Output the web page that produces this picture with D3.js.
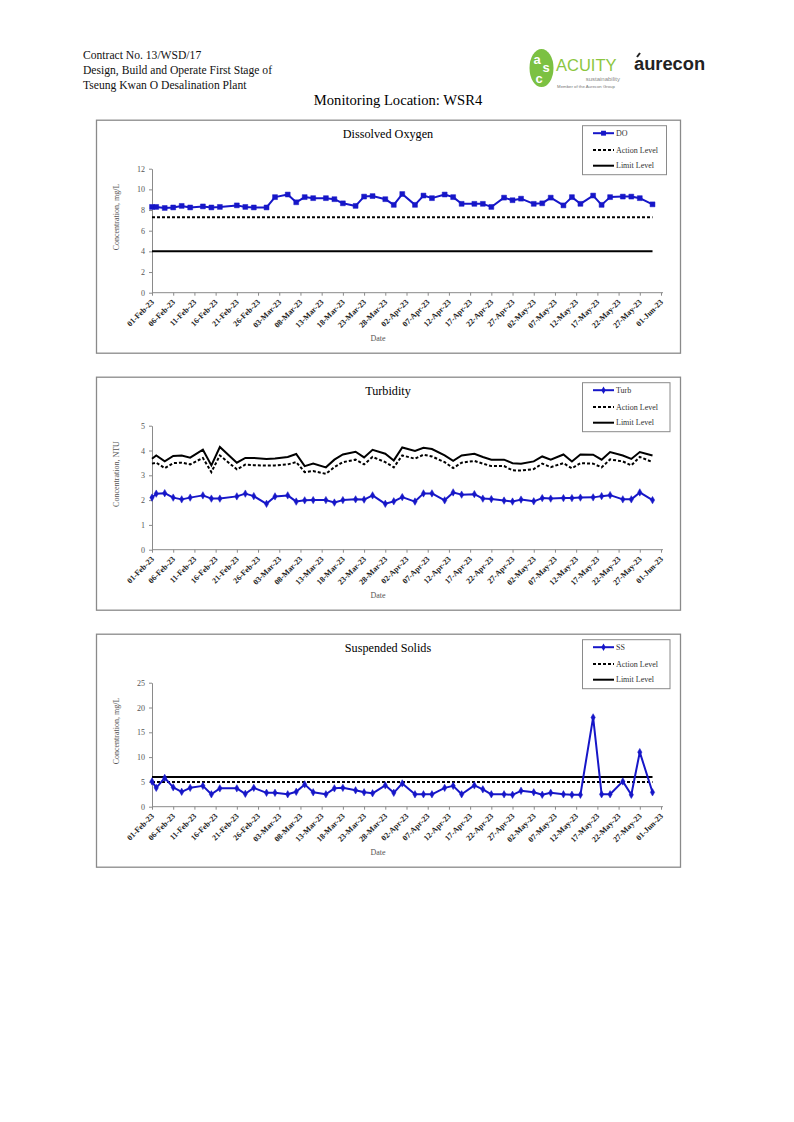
<!DOCTYPE html>
<html><head><meta charset="utf-8">
<script src="https://cdn.jsdelivr.net/npm/d3@7"></script>
<style>
body{margin:0;background:#fff}
svg{display:block}
</style>
</head><body>
<svg id="c" width="794" height="1122" font-family="Liberation Serif, Times New Roman, serif"></svg>
<script>
// ---------------- data ----------------
const sampleDates = ["2023-02-01","2023-02-02","2023-02-04","2023-02-06","2023-02-08","2023-02-10","2023-02-13","2023-02-15","2023-02-17","2023-02-21","2023-02-23","2023-02-25","2023-02-28",
"2023-03-02","2023-03-05","2023-03-07","2023-03-09","2023-03-11","2023-03-14","2023-03-16","2023-03-18","2023-03-21","2023-03-23","2023-03-25","2023-03-28","2023-03-30",
"2023-04-01","2023-04-04","2023-04-06","2023-04-08","2023-04-11","2023-04-13","2023-04-15","2023-04-18","2023-04-20","2023-04-22","2023-04-25","2023-04-27","2023-04-29",
"2023-05-02","2023-05-04","2023-05-06","2023-05-09","2023-05-11","2023-05-13","2023-05-16","2023-05-18","2023-05-20","2023-05-23","2023-05-25","2023-05-27","2023-05-30"];

const doValues = [8.3,8.3,8.2,8.25,8.4,8.25,8.35,8.25,8.3,8.45,8.3,8.25,8.25,
9.25,9.5,8.75,9.25,9.15,9.15,9.05,8.65,8.4,9.3,9.35,9.05,8.5,
9.55,8.5,9.4,9.15,9.5,9.25,8.6,8.6,8.6,8.3,9.2,8.95,9.1,
8.6,8.65,9.2,8.45,9.25,8.6,9.4,8.5,9.25,9.3,9.3,9.15,8.55];
const doAction = 7.3;
const doLimit = 4;

const turbValues = [2.10,2.26,2.28,2.10,2.03,2.10,2.19,2.06,2.06,2.15,2.26,2.16,1.85,
2.15,2.19,1.94,1.99,2.00,2.00,1.90,2.00,2.03,2.02,2.19,1.85,1.95,
2.12,1.94,2.27,2.27,1.99,2.31,2.22,2.24,2.06,2.04,1.98,1.94,2.02,
1.95,2.08,2.06,2.08,2.08,2.10,2.11,2.16,2.20,2.03,2.03,2.31,2.00];
const turbAction = [3.47,3.51,3.29,3.49,3.51,3.44,3.70,3.13,3.80,3.24,3.43,3.41,3.39,
3.40,3.44,3.53,3.13,3.17,3.06,3.33,3.53,3.63,3.44,3.74,3.53,3.32,
3.80,3.67,3.83,3.76,3.53,3.29,3.51,3.58,3.47,3.37,3.37,3.20,3.19,
3.25,3.47,3.33,3.49,3.28,3.49,3.47,3.32,3.64,3.56,3.40,3.74,3.53];
const turbLimit = [3.67,3.80,3.56,3.78,3.80,3.71,4.03,3.40,4.14,3.51,3.70,3.70,3.66,
3.68,3.74,3.86,3.37,3.47,3.32,3.63,3.84,3.95,3.72,4.03,3.87,3.60,
4.12,3.98,4.11,4.06,3.80,3.58,3.80,3.87,3.74,3.63,3.63,3.49,3.47,
3.56,3.76,3.63,3.84,3.56,3.84,3.83,3.63,3.94,3.80,3.66,3.94,3.80];

const ssValues = [5.1,3.8,5.8,3.9,3.0,3.8,4.2,2.5,3.7,3.7,2.6,3.8,2.8,
2.8,2.5,3.0,4.5,2.9,2.5,3.7,3.8,3.3,2.9,2.7,4.3,2.8,
4.7,2.5,2.5,2.5,3.8,4.2,2.5,4.3,3.5,2.5,2.5,2.4,3.2,
2.9,2.4,2.8,2.5,2.4,2.4,18.0,2.5,2.5,5.1,2.4,11.0,2.9];
const ssAction = 5;
const ssLimit = 6;

const doTicks = [0,2,4,6,8,10,12];
const turbTicks = [0,1,2,3,4,5];
const ssTicks = [0,5,10,15,20,25];
const xTickLabels = ["01-Feb-23","06-Feb-23","11-Feb-23","16-Feb-23","21-Feb-23","26-Feb-23","03-Mar-23","08-Mar-23","13-Mar-23","18-Mar-23","23-Mar-23","28-Mar-23",
"02-Apr-23","07-Apr-23","12-Apr-23","17-Apr-23","22-Apr-23","27-Apr-23","02-May-23","07-May-23","12-May-23","17-May-23","22-May-23","27-May-23","01-Jun-23"];

// ---------------- drawing ----------------
const SERIF = "Liberation Serif, Times New Roman, serif";
const SANS = "Liberation Sans, Arial, sans-serif";
const parse = d3.utcParse("%Y-%m-%d");
const parseTick = d3.utcParse("%d-%b-%y");
const dates = sampleDates.map(parse);
const svg = d3.select("#c");
const BLUE = "#1616c8";

// header
const hdr = svg.append("g");
[["Contract No. 13/WSD/17",59],["Design, Build and Operate First Stage of",74],["Tseung Kwan O Desalination Plant",89]]
  .forEach(([t,y]) => hdr.append("text").attr("x",83).attr("y",y).attr("font-size",11.6).attr("fill","#111").text(t));
hdr.append("text").attr("x",398).attr("y",105).attr("text-anchor","middle").attr("font-size",14.6).attr("fill","#000").text("Monitoring Location: WSR4");

// logos
const logo = svg.append("g").attr("font-family",SANS);
logo.append("ellipse").attr("cx",541.5).attr("cy",68).attr("rx",12).attr("ry",19).attr("fill","#7cc142");
logo.append("text").attr("x",537).attr("y",64).attr("font-weight","bold").attr("font-size",13).attr("fill","#fff").attr("text-anchor","middle").text("a");
logo.append("text").attr("x",546).attr("y",72).attr("font-weight","bold").attr("font-size",13).attr("fill","#fff").attr("text-anchor","middle").text("s");
logo.append("text").attr("x",539).attr("y",83).attr("font-weight","bold").attr("font-size",13).attr("fill","#fff").attr("text-anchor","middle").text("c");
logo.append("text").attr("x",556).attr("y",71).attr("font-size",16.5).attr("fill","#8cc63f").text("ACUITY");
logo.append("text").attr("x",620).attr("y",80.5).attr("text-anchor","end").attr("font-size",6).attr("fill","#8a8a8a").text("sustainability");
logo.append("text").attr("x",586).attr("y",88).attr("text-anchor","middle").attr("font-size",4.3).attr("fill","#777").text("Member of the Aurecon Group");
logo.append("text").attr("x",634).attr("y",70).attr("font-weight","bold").attr("font-size",18.3).attr("fill","#222").text("aurecon");
logo.append("path").attr("d","M637,57 L640,53").attr("stroke","#222").attr("stroke-width",2);

function drawChart(o){
  const top = o.top;
  const g = svg.append("g");
  g.append("rect").attr("x",96.5).attr("y",top+0.5).attr("width",584).attr("height",233)
    .attr("fill","#fff").attr("stroke","#8a8a8a").attr("stroke-width",1.3);

  const x = d3.scaleUtc().domain([parseTick("01-Feb-23"), parseTick("01-Jun-23")]).range([152,661]);
  const y = d3.scaleLinear().domain([0, o.max]).range([top+173, top+49]);

  // title
  g.append("text").attr("x",388).attr("y",top+18).attr("text-anchor","middle").attr("font-size",12.2).attr("fill","#000").text(o.title);

  // y axis
  const ya = g.append("g").attr("transform","translate(152,0)")
    .call(d3.axisLeft(y).tickValues(o.ticks).tickFormat(d3.format("d")).tickSize(3).tickSizeOuter(0).tickPadding(4));
  ya.select(".domain").attr("stroke","#8a8a8a");
  ya.selectAll(".tick line").attr("stroke","#8a8a8a");
  ya.selectAll(".tick text").attr("font-family",SERIF).attr("font-size",8).attr("fill","#555");

  // x axis
  const xa = g.append("g").attr("transform",`translate(0,${top+173})`)
    .call(d3.axisBottom(x).tickValues(xTickLabels.map(parseTick)).tickFormat(d3.utcFormat("%d-%b-%y")).tickSize(3).tickSizeOuter(0));
  xa.select(".domain").attr("stroke","#8a8a8a").attr("d","M152,0H663");
  xa.selectAll(".tick line").attr("stroke","#8a8a8a");
  xa.selectAll(".tick text").attr("font-family",SERIF).attr("font-size",8).attr("font-weight","bold").attr("fill","#222")
    .attr("text-anchor","end").attr("x",0).attr("y",0).attr("dy","0.35em").attr("transform","translate(0,8) rotate(-45)");

  // axis titles
  g.append("text").attr("transform",`translate(119,${top+97.3}) rotate(-90)`).attr("text-anchor","middle")
    .attr("font-size",8).attr("fill","#555").text(o.yTitle);
  g.append("text").attr("x",378).attr("y",top+221).attr("text-anchor","middle").attr("font-size",8).attr("fill","#555").text("Date");

  const line = d3.line().x(d => x(d[0])).y(d => y(d[1]));
  const actionData = Array.isArray(o.action) ? dates.map((d,i)=>[d,o.action[i]]) : [[dates[0],o.action],[dates[dates.length-1],o.action]];
  const limitData = Array.isArray(o.limit) ? dates.map((d,i)=>[d,o.limit[i]]) : [[dates[0],o.limit],[dates[dates.length-1],o.limit]];

  g.append("path").attr("d",line(limitData)).attr("fill","none").attr("stroke","#000").attr("stroke-width",2);
  g.append("path").attr("d",line(actionData)).attr("fill","none").attr("stroke","#000").attr("stroke-width",2).attr("stroke-dasharray","3,2");

  const sd = dates.map((d,i)=>[d,o.values[i]]);
  g.append("path").attr("d",line(sd)).attr("fill","none").attr("stroke",BLUE).attr("stroke-width",2).attr("stroke-linejoin","round");
  const sym = d3.symbol().type(o.symbol).size(o.symSize);
  g.selectAll(".m").data(sd).join("path").attr("class","m")
    .attr("transform",d=>`translate(${x(d[0])},${y(d[1])})`).attr("d",sym).attr("fill",BLUE).attr("stroke",BLUE).attr("stroke-width",0.5);

  // legend
  const lg = g.append("g");
  lg.append("rect").attr("x",582.5).attr("y",top+6).attr("width",o.legW).attr("height",49)
    .attr("fill","#fff").attr("stroke","#8a8a8a").attr("stroke-width",1);
  const rows = [top+13.5, top+30.3, top+46];
  lg.append("line").attr("x1",593).attr("x2",614).attr("y1",rows[0]).attr("y2",rows[0]).attr("stroke",BLUE).attr("stroke-width",2);
  lg.append("path").attr("transform",`translate(603.5,${rows[0]})`).attr("d",sym).attr("fill",BLUE);
  lg.append("line").attr("x1",593).attr("x2",614).attr("y1",rows[1]).attr("y2",rows[1]).attr("stroke","#000").attr("stroke-width",2).attr("stroke-dasharray","3,2");
  lg.append("line").attr("x1",593).attr("x2",614).attr("y1",rows[2]).attr("y2",rows[2]).attr("stroke","#000").attr("stroke-width",2);
  [o.seriesName,"Action Level","Limit Level"].forEach((t,i)=>
    lg.append("text").attr("x",616).attr("y",rows[i]).attr("dy","0.33em").attr("font-size",8).attr("fill","#333").text(t));
}

drawChart({top:119.7, title:"Dissolved Oxygen", yTitle:"Concentration, mg/L", max:12, ticks:doTicks,
  values:doValues, action:doAction, limit:doLimit, seriesName:"DO", symbol:d3.symbolSquare, symSize:24, legW:84});
drawChart({top:376.7, title:"Turbidity", yTitle:"Concentration, NTU", max:5, ticks:turbTicks,
  values:turbValues, action:turbAction, limit:turbLimit, seriesName:"Turb", symbol:d3.symbolDiamond, symSize:16, legW:87.5});
drawChart({top:633.7, title:"Suspended Solids", yTitle:"Concentration, mg/L", max:25, ticks:ssTicks,
  values:ssValues, action:ssAction, limit:ssLimit, seriesName:"SS", symbol:d3.symbolDiamond, symSize:16, legW:87.5});
</script>
</body></html>
